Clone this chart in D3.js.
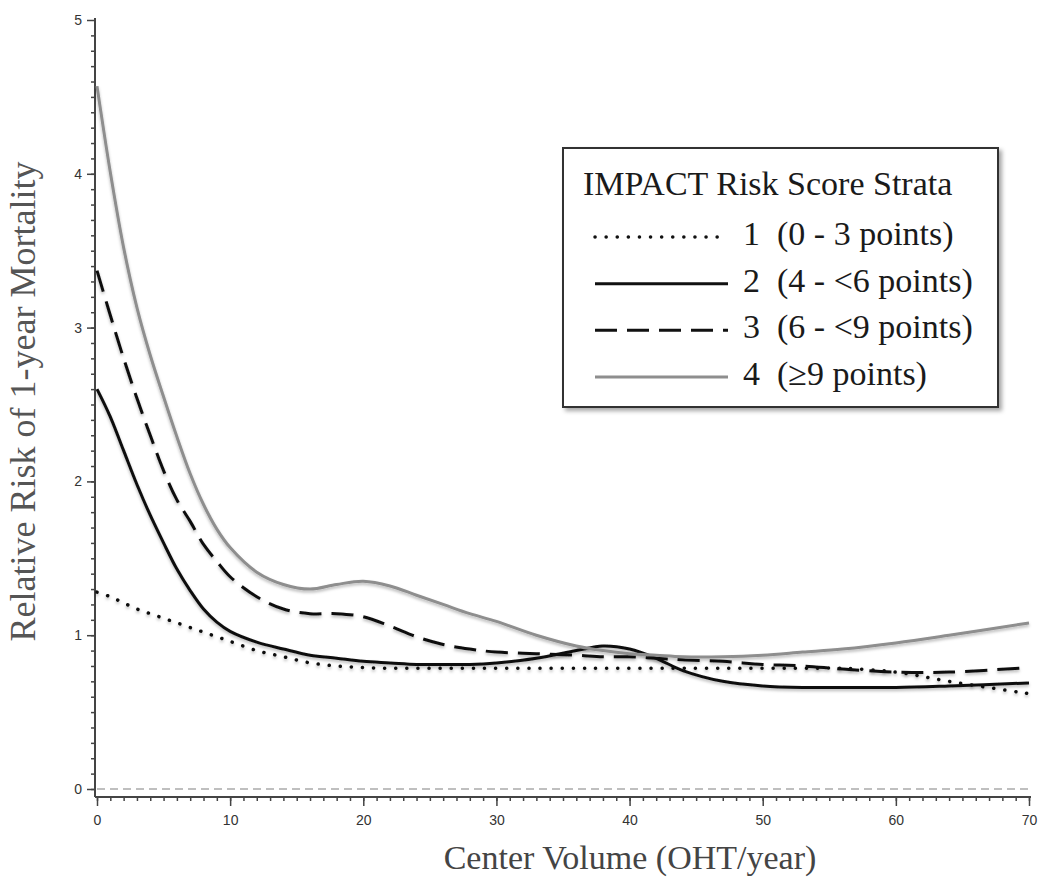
<!DOCTYPE html>
<html>
<head>
<meta charset="utf-8">
<script src="https://cdn.jsdelivr.net/npm/d3@7"></script>
<style>
  body { margin: 0; background: #fff; }
  text { white-space: pre; }
</style>
</head>
<body>
<div id="chart"></div>
<script>
// center volume grid (OHT/year)
const volume = [0, 1, 2, 3, 4, 5, 6, 7, 8, 9, 10, 12, 14, 16, 18, 20, 22, 24, 26, 28, 30,
  33, 36, 38, 40, 42, 44, 47, 50, 53, 56, 60, 64, 70];

// relative risk of 1-year mortality, per IMPACT stratum
const stratum1 = [1.28, 1.25, 1.21, 1.17, 1.14, 1.11, 1.08, 1.05, 1.02, 0.99, 0.96, 0.90, 0.86, 0.82,
  0.80, 0.79, 0.785, 0.785, 0.785, 0.785, 0.785, 0.785, 0.785, 0.785, 0.785, 0.785, 0.785, 0.785,
  0.785, 0.785, 0.785, 0.76, 0.70, 0.62];
const stratum2 = [2.60, 2.42, 2.20, 1.98, 1.78, 1.60, 1.43, 1.29, 1.17, 1.085, 1.025, 0.955, 0.91, 0.87,
  0.85, 0.83, 0.82, 0.81, 0.81, 0.81, 0.82, 0.85, 0.90, 0.93, 0.91, 0.85, 0.77, 0.70, 0.67, 0.66,
  0.66, 0.66, 0.67, 0.69];
const stratum3 = [3.37, 3.08, 2.80, 2.54, 2.30, 2.07, 1.88, 1.74, 1.59, 1.48, 1.38, 1.25, 1.17, 1.14,
  1.14, 1.12, 1.06, 0.99, 0.94, 0.91, 0.89, 0.88, 0.87, 0.86, 0.86, 0.85, 0.84, 0.83, 0.81, 0.80,
  0.78, 0.76, 0.76, 0.79];
const stratum4 = [4.57, 4.01, 3.52, 3.13, 2.82, 2.55, 2.29, 2.05, 1.85, 1.69, 1.57, 1.41, 1.33, 1.30,
  1.33, 1.35, 1.32, 1.26, 1.20, 1.14, 1.09, 1.00, 0.93, 0.90, 0.88, 0.87, 0.86, 0.86, 0.87, 0.89,
  0.91, 0.95, 1.00, 1.08];

const legendTitle = 'IMPACT Risk Score Strata';
const legendLabels = ['1  (0 - 3 points)', '2  (4 - <6 points)', '3  (6 - <9 points)', '4  (\u22659 points)'];
const yTicks = [0, 1, 2, 3, 4, 5];
const xTicks = [0, 10, 20, 30, 40, 50, 60, 70];

const styles = [
  { stroke: '#111', width: 3.5, dash: '0.1,11', cap: 'round' },
  { stroke: '#111', width: 3, dash: null, cap: 'butt' },
  { stroke: '#111', width: 3, dash: '22,10', cap: 'butt' },
  { stroke: '#8e8e8e', width: 3, dash: null, cap: 'butt' },
];

const width = 1050;
const height = 881;

const svg = d3.select('#chart').append('svg')
  .attr('width', width)
  .attr('height', height)
  .style('font-family', '"Liberation Serif", "Times New Roman", serif');

const defs = svg.append('defs');
defs.append('filter').attr('id', 'soft')
  .attr('x', '-5%').attr('y', '-5%').attr('width', '110%').attr('height', '120%')
  .append('feDropShadow')
  .attr('dx', 0).attr('dy', 2).attr('stdDeviation', 1.4)
  .attr('flood-color', '#000').attr('flood-opacity', 0.28);
defs.append('filter').attr('id', 'boxshadow')
  .attr('x', '-10%').attr('y', '-10%').attr('width', '120%').attr('height', '120%')
  .append('feDropShadow')
  .attr('dx', 3).attr('dy', 3).attr('stdDeviation', 2)
  .attr('flood-color', '#000').attr('flood-opacity', 0.35);

const x = d3.scaleLinear().domain([0, 70]).range([97, 1029]);
const y = d3.scaleLinear().domain([0, 5]).range([789, 20]);
const axisY = 797;
const axisX = 95;

// y axis: minor ticks every 0.1, labelled majors
const gy = svg.append('g').attr('transform', `translate(${axisX},0)`)
  .style('color', '#444');
gy.call(d3.axisLeft(y).tickValues(d3.range(0, 50).map((d) => d / 10)).tickSize(4).tickFormat(''));
gy.select('.domain').remove();
const gyMajor = svg.append('g').attr('transform', `translate(${axisX},0)`)
  .style('color', '#444')
  .call(d3.axisLeft(y).tickValues(yTicks).tickSize(8).tickPadding(5).tickFormat(d3.format('d')));
gyMajor.select('.domain').remove();
gyMajor.selectAll('text')
  .style('font-family', '"Liberation Sans", Arial, sans-serif')
  .style('font-size', '14px')
  .attr('fill', '#333');
svg.append('line')
  .attr('x1', axisX).attr('x2', axisX).attr('y1', y(5) - 2).attr('y2', axisY)
  .attr('stroke', '#444').attr('stroke-width', 2);

// x axis: minor ticks every 1
const gx = svg.append('g').attr('transform', `translate(0,${axisY})`)
  .style('color', '#444');
gx.call(d3.axisBottom(x).tickValues(d3.range(0, 71)).tickSize(4).tickFormat(''));
gx.select('.domain').remove();
const gxMajor = svg.append('g').attr('transform', `translate(0,${axisY})`)
  .style('color', '#444')
  .call(d3.axisBottom(x).tickValues(xTicks).tickSize(9).tickPadding(9).tickFormat(d3.format('d')));
gxMajor.select('.domain').remove();
gxMajor.selectAll('text')
  .style('font-family', '"Liberation Sans", Arial, sans-serif')
  .style('font-size', '14px')
  .attr('fill', '#333');
svg.selectAll('.tick line').attr('stroke-width', 1.5);
svg.append('line')
  .attr('x1', axisX).attr('x2', x(70) + 2).attr('y1', axisY).attr('y2', axisY)
  .attr('stroke', '#444').attr('stroke-width', 2);

// reference line at zero
svg.append('line')
  .attr('x1', x(0)).attr('x2', x(70)).attr('y1', y(0)).attr('y2', y(0))
  .attr('stroke', '#aaa').attr('stroke-width', 1.5).attr('stroke-dasharray', '8,5');

// axis titles
svg.append('text')
  .attr('transform', `translate(35,${y(2.5) - 3}) rotate(-90)`)
  .attr('text-anchor', 'middle')
  .attr('fill', '#555')
  .style('font-size', '36px')
  .text('Relative Risk of 1-year Mortality');
svg.append('text')
  .attr('x', 630).attr('y', 869)
  .attr('text-anchor', 'middle')
  .attr('fill', '#444')
  .style('font-size', '34px')
  .text('Center Volume (OHT/year)');

// curves
const series = [stratum1, stratum2, stratum3, stratum4];
const line = d3.line()
  .x((d) => x(d[0]))
  .y((d) => y(d[1]))
  .curve(d3.curveCatmullRom.alpha(0.5));

svg.append('g').attr('class', 'curves')
  .selectAll('path')
  .data(series.map((s, i) => ({ pts: volume.map((v, j) => [v, s[j]]), style: styles[i] })))
  .join('path')
  .attr('d', (d) => line(d.pts))
  .attr('fill', 'none')
  .attr('stroke', (d) => d.style.stroke)
  .attr('stroke-width', (d) => d.style.width)
  .attr('stroke-dasharray', (d) => d.style.dash)
  .attr('stroke-linecap', (d) => d.style.cap)
  .attr('filter', 'url(#soft)');

// legend
const legend = svg.append('g').attr('class', 'legend');
legend.append('rect')
  .attr('x', 563).attr('y', 148).attr('width', 435).attr('height', 259)
  .attr('fill', '#fff').attr('stroke', '#333').attr('stroke-width', 2)
  .attr('filter', 'url(#boxshadow)');
legend.append('text')
  .attr('x', 583).attr('y', 195)
  .attr('fill', '#1a1a1a')
  .style('font-size', '34px')
  .text(legendTitle);
const rowY = d3.scalePoint().domain(d3.range(4)).range([237, 377]);
const rows = legend.selectAll('g.row')
  .data(legendLabels)
  .join('g')
  .attr('class', 'row')
  .attr('transform', (d, i) => `translate(0,${rowY(i)})`);
rows.append('line')
  .attr('x1', 595).attr('x2', 728)
  .attr('stroke', (d, i) => styles[i].stroke)
  .attr('stroke-width', (d, i) => styles[i].width)
  .attr('stroke-dasharray', (d, i) => styles[i].dash)
  .attr('stroke-linecap', (d, i) => styles[i].cap);
rows.append('text')
  .attr('x', 743).attr('y', 8)
  .attr('fill', '#1a1a1a')
  .style('font-size', '34px')
  .text((d) => d);
</script>
</body>
</html>
